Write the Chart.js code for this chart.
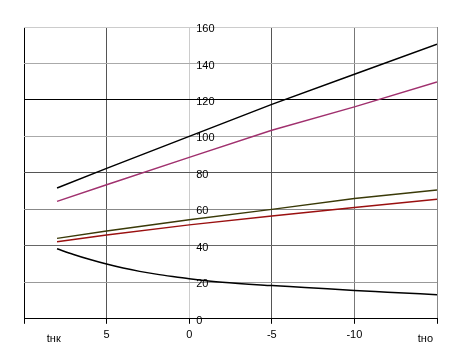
<!DOCTYPE html>
<html>
<head>
<meta charset="utf-8">
<script src="https://cdn.jsdelivr.net/npm/chart.js@4.4.1/dist/chart.umd.min.js"></script>
<style>
  html, body { margin: 0; padding: 0; background: #fff; }
  #wrap { width: 449px; height: 363px; }
</style>
</head>
<body>
<div id="wrap"><canvas id="chart"></canvas></div>
<script>
// значения
const xLine = [8, 5, 0, -5, -10, -15];
const blackTop = [71.7, 82.5, 100, 117.6, 134.1, 150.6];
const purple = [64.4, 73.5, 88.5, 103.4, 116.2, 129.9];
const olive = [44.1, 48.1, 54.3, 60.0, 65.9, 70.6];
const red = [42.3, 45.9, 51.5, 56.4, 61.0, 65.5];

const xCurve = [8, 7, 6, 5, 4, 3, 2, 1, 0, -2, -5, -7, -10, -12, -15];
const blackBottom = [38.4, 35.3, 32.5, 30.0, 27.8, 26.0, 24.5, 23.2, 22.0, 20.0, 18.2, 17.2, 15.5, 14.6, 13.2];

const edgeLabels = ['tнк', 'tно'];
const edgeAt = [8.2, -14.3];

const toPts = (xs, ys) => xs.map((x, i) => ({ x: x, y: ys[i] }));

const hGrid = { 0: '#000', 20: '#999', 40: '#666', 60: '#888', 80: '#555', 100: '#aaa', 120: '#000', 140: '#aaa', 160: '#ccc' };
const vGrid = { 10: '#000', 5: '#555', 0: '#ccc', '-5': '#555', '-10': '#777', '-15': '#888' };

const labelsPlugin = {
    id: 'labels',
    afterDraw(chart) {
        const ctx = chart.ctx;
        const xs = chart.scales.x, ys = chart.scales.y;
        ctx.save();
        ctx.font = '11px "Liberation Sans", Arial, sans-serif';
        ctx.fillStyle = '#000';
        // подписи оси Y справа от линии x=0
        ctx.textAlign = 'left';
        ctx.textBaseline = 'middle';
        const x0 = xs.getPixelForValue(0);
        ys.ticks.forEach(t => {
            ctx.fillText(String(t.value), x0 + 7, ys.getPixelForValue(t.value) + 2);
        });
        // tнк / tно
        ctx.textAlign = 'center';
        edgeLabels.forEach((s, i) => {
            ctx.fillText(s, xs.getPixelForValue(edgeAt[i]), ys.bottom + 20);
        });
        ctx.restore();
    }
};

const ctx = document.getElementById('chart').getContext('2d');
new Chart(ctx, {
    type: 'line',
    data: {
        datasets: [{
            data: toPts(xLine, blackTop),
            borderColor: '#000'
        }, {
            data: toPts(xLine, purple),
            borderColor: '#a0306e'
        }, {
            data: toPts(xLine, olive),
            borderColor: '#3a3a08'
        }, {
            data: toPts(xLine, red),
            borderColor: '#9a1010'
        }, {
            data: toPts(xCurve, blackBottom),
            borderColor: '#000',
            cubicInterpolationMode: 'monotone'
        }]
    },
    options: {
        responsive: true,
        maintainAspectRatio: false,
        animation: false,
        layout: { padding: { left: 24, right: 12, top: 27, bottom: 16 } },
        elements: {
            point: { radius: 0 },
            line: { borderWidth: 1.5, tension: 0 }
        },
        plugins: { legend: { display: false }, tooltip: { enabled: false } },
        scales: {
            x: {
                type: 'linear',
                min: -15,
                max: 10,
                reverse: true,
                ticks: {
                    stepSize: 5,
                    color: '#000',
                    padding: 5,
                    font: { family: '"Liberation Sans", Arial, sans-serif', size: 11 },
                    callback: v => (v === 10 || v === -15) ? '' : String(v)
                },
                grid: {
                    color: c => vGrid[c.tick.value] || '#888',
                    tickColor: '#000',
                    tickLength: 5
                },
                border: { display: true, color: '#000' }
            },
            y: {
                position: { x: 0 },
                min: 0,
                max: 160,
                ticks: { stepSize: 20, display: false },
                grid: {
                    color: c => hGrid[c.tick.value] || '#888',
                    drawTicks: false
                },
                border: { display: false }
            }
        }
    },
    plugins: [labelsPlugin]
});
</script>
</body>
</html>
